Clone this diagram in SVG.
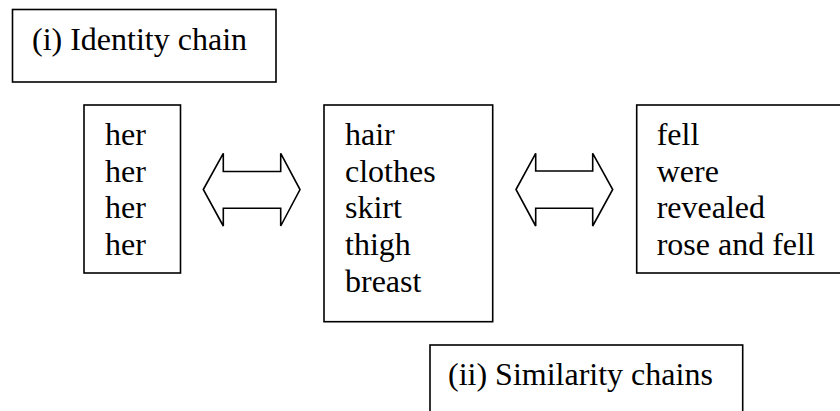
<svg xmlns="http://www.w3.org/2000/svg" width="840" height="411" viewBox="0 0 840 411">
<style>
.box{fill:#fff;stroke:#000;stroke-width:1.6}
.t{font-family:"Liberation Serif","Times New Roman",serif;font-size:32px;fill:#000}
.arr{fill:#fff;stroke:#000;stroke-width:1.6;stroke-linejoin:miter}
</style>
<rect width="840" height="411" fill="#fff"/>
<g id="identity-label">
<rect class="box" x="12.5" y="9.5" width="263.5" height="72.5"/>
<text class="t" x="32" y="50">(i) Identity chain</text>
</g>
<g id="her-box">
<rect class="box" x="84" y="105" width="96.5" height="168"/>
<text class="t" x="105" y="145">her</text>
<text class="t" x="105" y="181.7">her</text>
<text class="t" x="105" y="218.3">her</text>
<text class="t" x="105" y="255">her</text>
</g>
<g id="nouns-box">
<rect class="box" x="324" y="105" width="168.7" height="216.7"/>
<text class="t" x="345" y="145">hair</text>
<text class="t" x="345" y="181.7">clothes</text>
<text class="t" x="345" y="218.3">skirt</text>
<text class="t" x="345" y="255">thigh</text>
<text class="t" x="345" y="291.7">breast</text>
</g>
<g id="verbs-box">
<rect class="box" x="636.7" y="105" width="220" height="168"/>
<text class="t" x="656.7" y="145">fell</text>
<text class="t" x="656.7" y="181.7">were</text>
<text class="t" x="656.7" y="218.3">revealed</text>
<text class="t" x="656.7" y="255">rose and fell</text>
</g>
<g id="similarity-label">
<rect class="box" x="430" y="345" width="312.7" height="80"/>
<text class="t" x="448" y="385">(ii) Similarity chains</text>
</g>
<g id="connectors">
<polygon class="arr" points="203.3,189.5 223.3,153.3 223.3,171.5 280.7,171.5 280.7,153.3 300,189.5 280.7,226 280.7,208.3 223.3,208.3 223.3,226"/>
<polygon class="arr" points="516,189.5 535.7,153.3 535.7,171 592.7,171 592.7,153.3 612.7,189.5 592.7,226 592.7,208.3 535.7,208.3 535.7,226"/>
</g>
</svg>
